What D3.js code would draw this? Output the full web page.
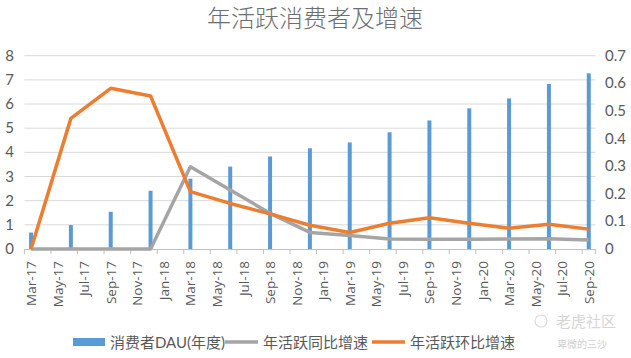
<!DOCTYPE html>
<html><head><meta charset="utf-8">
<script src="https://cdn.jsdelivr.net/npm/d3@7/dist/d3.min.js"></script>
<style>
body{margin:0;background:#fff;}
text{font-family:"Lato","Noto Sans CJK SC",sans-serif;}
</style></head>
<body><svg id="c" width="631" height="358"></svg>
<script>
const title = "年活跃消费者及增速";
const quarters = ["Mar-17","Jun-17","Sep-17","Dec-17","Mar-18","Jun-18","Sep-18","Dec-18","Mar-19","Jun-19","Sep-19","Dec-19","Mar-20","Jun-20","Sep-20"];
const dau = [0.68,0.99,1.54,2.41,2.91,3.41,3.83,4.17,4.41,4.83,5.32,5.82,6.23,6.83,7.27];
const yoy = [0,0,0,0,0.298,0.214,0.129,0.060,0.049,0.036,0.035,0.035,0.036,0.037,0.033];
const qoq = [0,0.473,0.582,0.554,0.208,0.165,0.127,0.086,0.060,0.093,0.113,0.093,0.075,0.090,0.072];
const xLabels = ["Mar-17","May-17","Jul-17","Sep-17","Nov-17","Jan-18","Mar-18","May-18","Jul-18","Sep-18","Nov-18","Jan-19","Mar-19","May-19","Jul-19","Sep-19","Nov-19","Jan-20","Mar-20","May-20","Jul-20","Sep-20"];
const leftTicks = [0,1,2,3,4,5,6,7,8];
const rightTicks = [0,0.1,0.2,0.3,0.4,0.5,0.6,0.7];
const seriesNames = ["消费者DAU(年度)","年活跃同比增速","年活跃环比增速"];
const colors = ["#5B9BD5","#A5A5A5","#ED7D31"];

const svg = d3.select("#c");
const monthOf = s => { const m = ["Jan","Feb","Mar","Apr","May","Jun","Jul","Aug","Sep","Oct","Nov","Dec"].indexOf(s.slice(0,3)); const y = +s.slice(4); return (y-17)*12 + m - 2; };
const x = d3.scaleLinear().domain([0,43]).range([24.4,595.4]);
const yL = d3.scaleLinear().domain([0,8]).range([249,55.7]);
const yR = d3.scaleLinear().domain([0,0.7]).range([249,55.7]);
const fg = "#595959";

svg.append("text").attr("x",315).attr("y",27).attr("text-anchor","middle")
  .attr("font-size",24).attr("fill","#6e6e6e")
  .style("font-family","'Noto Sans CJK SC',sans-serif").style("font-weight",300).text(title);

// grid
svg.append("g").selectAll("line").data(leftTicks.filter(d=>d>0)).join("line")
  .attr("x1",x(0)).attr("x2",x(43)).attr("y1",d=>yL(d)).attr("y2",d=>yL(d))
  .attr("stroke","#D9D9D9").attr("stroke-width",1);

// left axis labels
svg.append("g").selectAll("text").data(leftTicks).join("text")
  .attr("x",14).attr("y",d=>yL(d)+5).attr("text-anchor","end")
  .attr("font-size",15).attr("fill",fg).text(d=>d);
// right axis labels
svg.append("g").selectAll("text").data(rightTicks).join("text")
  .attr("x",605).attr("y",d=>yR(d)+5).attr("text-anchor","start")
  .attr("font-size",15).attr("fill",fg).text(d=>d);

// bars
const bw = 4;
svg.append("g").selectAll("rect").data(dau).join("rect")
  .attr("x",(d,i)=>x(monthOf(quarters[i])+0.5)-bw/2).attr("width",bw)
  .attr("y",d=>yL(d)).attr("height",d=>yL(0)-yL(d)).attr("fill",colors[0]);

// x axis
const xTicks = d3.range(0,44,2).concat([43]);
svg.append("line").attr("x1",x(0)).attr("x2",x(43)).attr("y1",yL(0)+0.5).attr("y2",yL(0)+0.5).attr("stroke","#BFBFBF");
svg.append("g").selectAll("line").data(xTicks).join("line")
  .attr("x1",d=>x(d)).attr("x2",d=>x(d)).attr("y1",yL(0)).attr("y2",yL(0)+5).attr("stroke","#BFBFBF");
svg.append("g").selectAll("text").data(xLabels).join("text")
  .attr("transform",d=>`translate(${x(monthOf(d)+0.5)+5},${yL(0)+12}) rotate(-90)`)
  .attr("text-anchor","end").attr("font-size",13.5).attr("fill",fg)
  .style("font-family","'Open Sans',sans-serif").text(d=>d);

// lines
const line = vals => d3.line().x((d,i)=>x(monthOf(quarters[i])+0.5)).y(d=>yR(d))(vals);
svg.append("path").attr("d",line(yoy)).attr("fill","none").attr("stroke",colors[1]).attr("stroke-width",3.5).attr("stroke-linejoin","round");
svg.append("path").attr("d",line(qoq)).attr("fill","none").attr("stroke",colors[2]).attr("stroke-width",3.5).attr("stroke-linejoin","round");

// legend
const lg = svg.append("g");
lg.append("rect").attr("x",73).attr("y",338).attr("width",32).attr("height",8).attr("fill",colors[0]);
lg.append("text").attr("x",110).attr("y",348).attr("font-size",15).attr("fill",fg).text(seriesNames[0]);
lg.append("line").attr("x1",225).attr("x2",258).attr("y1",342).attr("y2",342).attr("stroke",colors[1]).attr("stroke-width",3.5);
lg.append("text").attr("x",263).attr("y",348).attr("font-size",15).attr("fill",fg).text(seriesNames[1]);
lg.append("line").attr("x1",372).attr("x2",405).attr("y1",342).attr("y2",342).attr("stroke",colors[2]).attr("stroke-width",3.5);
lg.append("text").attr("x",410).attr("y",348).attr("font-size",15).attr("fill",fg).text(seriesNames[2]);

// watermark
svg.append("circle").attr("cx",541).attr("cy",321).attr("r",6).attr("fill","none").attr("stroke","#ddd").attr("stroke-width",1.2);
svg.append("text").attr("x",556).attr("y",327).attr("font-size",15).attr("fill","#d6d6d6").text("老虎社区");
svg.append("text").attr("x",557).attr("y",348).attr("font-size",10).attr("fill","#d0d0d0").text("卑微的三沙");
</script></body></html>
